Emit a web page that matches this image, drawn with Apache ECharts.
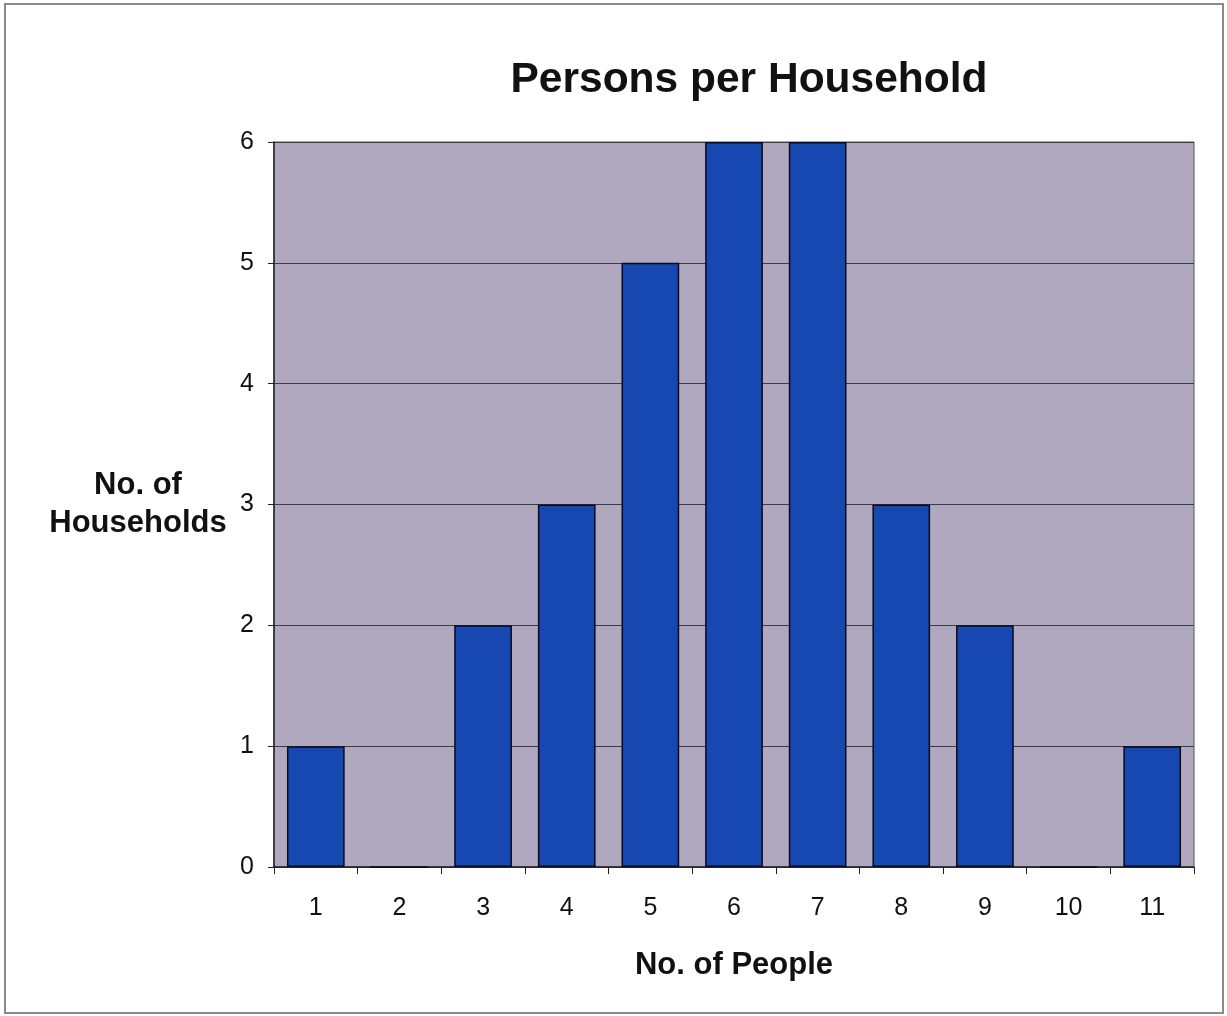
<!DOCTYPE html>
<html>
<head>
<meta charset="utf-8">
<title>Persons per Household</title>
<script src="https://cdn.jsdelivr.net/npm/echarts@6/dist/echarts.min.js"></script>
<style>
  html, body { margin: 0; padding: 0; background: #ffffff; }
  #chart { width: 1227px; height: 1016px; }
</style>
</head>
<body>
<div id="chart"></div>
<script>
// Household sizes and how many households have each size
const peopleCategories = ['1', '2', '3', '4', '5', '6', '7', '8', '9', '10', '11'];
const householdCounts = [1, 0, 2, 3, 5, 6, 6, 3, 2, 0, 1];
const yTicks = [0, 1, 2, 3, 4, 5, 6];

const FONT = '"Liberation Sans", Arial, Helvetica, sans-serif';
const chart = echarts.init(document.getElementById('chart'), null, { renderer: 'canvas' });

chart.setOption({
  backgroundColor: '#ffffff',
  animation: false,
  title: {
    text: 'Persons per Household',
    left: 744,
    top: 54,
    textAlign: 'center',
    textStyle: { fontFamily: FONT, fontSize: 42.5, fontWeight: 'bold', color: '#111111' }
  },
  graphic: [
    {
      type: 'rect',
      shape: { x: 5, y: 4, width: 1218, height: 1009 },
      style: { fill: 'none', stroke: '#8a8a8a', lineWidth: 2 },
      silent: true
    }
  ],
  grid: {
    left: 274,
    top: 142,
    width: 920,
    height: 725,
    show: true,
    backgroundColor: '#afa8be',
    borderColor: '#555555',
    borderWidth: 1
  },
  xAxis: {
    type: 'category',
    data: peopleCategories,
    boundaryGap: true,
    name: 'No. of People',
    nameLocation: 'middle',
    nameGap: 98,
    nameTextStyle: { fontFamily: FONT, fontSize: 31, fontWeight: 'bold', color: '#111111', verticalAlign: 'middle' },
    axisLine: { show: true, lineStyle: { color: '#222222', width: 1.5 } },
    axisTick: { show: true, length: 7, lineStyle: { color: '#222222' } },
    axisLabel: { fontFamily: FONT, fontSize: 25, color: '#111111', margin: 29 },
    splitLine: { show: false }
  },
  yAxis: {
    type: 'value',
    min: 0,
    max: 6,
    interval: 1,
    name: 'No. of\nHouseholds',
    nameLocation: 'middle',
    nameRotate: 0,
    nameGap: 136,
    nameTextStyle: {
      fontFamily: FONT, fontSize: 31, fontWeight: 'bold', color: '#111111',
      align: 'center', verticalAlign: 'middle', lineHeight: 38
    },
    axisLine: { show: true, lineStyle: { color: '#222222', width: 1.5 } },
    axisTick: { show: true, length: 6, lineStyle: { color: '#222222' } },
    axisLabel: {
      fontFamily: FONT, fontSize: 25, color: '#111111', margin: 20,
      formatter: (v) => (yTicks.includes(v) ? String(v) : '')
    },
    splitLine: { show: true, lineStyle: { color: '#3c3c44', width: 1 } }
  },
  series: [
    {
      type: 'bar',
      data: householdCounts,
      barWidth: '69%',
      itemStyle: { color: '#1747b0', borderColor: '#0a0a1e', borderWidth: 1.5 }
    }
  ]
});
</script>
</body>
</html>
